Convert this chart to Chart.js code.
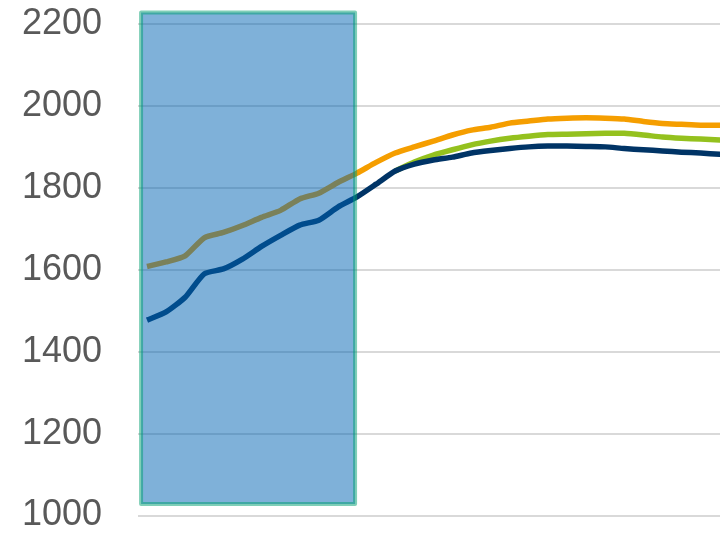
<!DOCTYPE html>
<html>
<head>
<meta charset="utf-8">
<script src="https://cdn.jsdelivr.net/npm/chart.js@4/dist/chart.umd.min.js"></script>
<style>
  html, body { margin: 0; padding: 0; background: #ffffff; }
  #wrap { width: 720px; height: 533px; position: relative; }
</style>
</head>
<body>
<div id="wrap"><canvas id="c"></canvas></div>
<script>
// ---- data ----
const years = [2009,2010,2011,2012,2013,2014,2015,2016,2017,2018,2019,2020,
               2021,2022,2023,2024,2025,2026,2027,2028,2029,2030,
               2031,2032,2033,2034,2035,2036,2037,2038,2039,2040];

const seriesOrange = [1608,1619,1634,1678,1691,1708,1728,1745,1773,1787,1813,1836,
                      1862,1885,1900,1914,1929,1941,1948,1958,1963,1968,
                      1970,1971,1970,1968,1962,1957,1955,1953,1953,1952];

const seriesGreen  = [null,null,null,null,null,null,null,null,null,null,null,null,
                      null,1841,1863,1880,1893,1905,1914,1921,1926,1930,
                      1931,1932,1933,1933,1929,1924,1921,1919,1917,1916];

const seriesNavy   = [1477,1497,1533,1590,1602,1626,1657,1684,1709,1721,1753,1778,
                      1809,1841,1858,1868,1875,1885,1891,1896,1900,1902,
                      1902,1901,1900,1896,1893,1890,1887,1885,1882,1880];

const yTicks = [1000,1200,1400,1600,1800,2000,2200];

// shaded (historic) window, in data units
const shadeX = [2008.69, 2019.9];
const shadeY = [1028, 2228];

const xMin = 2008.529, xMax = 2039.016;

function pts(arr) {
  return years.map((yr, i) => ({ x: yr, y: arr[i] }));
}

const shadePlugin = {
  id: 'shade',
  afterDatasetsDraw(chart) {
    const { ctx, scales: { x, y } } = chart;
    const x0 = x.getPixelForValue(shadeX[0]);
    const x1 = x.getPixelForValue(shadeX[1]);
    const y0 = y.getPixelForValue(shadeY[1]);
    const y1 = y.getPixelForValue(shadeY[0]);
    ctx.save();
    ctx.fillStyle = 'rgba(0,99,179,0.5)';
    ctx.fillRect(x0, y0, x1 - x0, y1 - y0);
    ctx.lineWidth = 4;
    ctx.lineJoin = 'round';
    ctx.strokeStyle = 'rgba(0,160,112,0.5)';
    ctx.strokeRect(x0, y0, x1 - x0, y1 - y0);
    ctx.restore();
  }
};

const lineStyle = { borderWidth: 5.5, tension: 0.2, borderJoinStyle: 'round', fill: false, pointRadius: 0, pointHoverRadius: 0 };

new Chart(document.getElementById('c'), {
  type: 'line',
  data: {
    datasets: [
      Object.assign({ label: 'orange', data: pts(seriesOrange), borderColor: '#F59E00', order: 0 }, lineStyle),
      Object.assign({ label: 'navy',   data: pts(seriesNavy),   borderColor: '#003466', order: 1 }, lineStyle),
      Object.assign({ label: 'green',  data: pts(seriesGreen),  borderColor: '#94C11E', order: 2 }, lineStyle)
    ]
  },
  options: {
    responsive: true,
    maintainAspectRatio: false,
    animation: false,
    layout: { padding: { top: 24, right: 0, bottom: 17.5, left: 0 } },
    plugins: { legend: { display: false }, tooltip: { enabled: false } },
    scales: {
      x: {
        type: 'linear',
        display: false,
        min: xMin,
        max: xMax
      },
      y: {
        min: 1000,
        max: 2200,
        afterFit(scale) {
          scale.width = 138;
          scale.paddingTop = 0;
          scale.paddingBottom = 0;
        },
        afterBuildTicks(scale) { scale.ticks = yTicks.map(v => ({ value: v })); },
        border: { display: false },
        grid: { color: '#D9D9D9', lineWidth: 2, drawTicks: false },
        ticks: {
          padding: 36,
          color: '#595959',
          callback: v => String(v),
          font: { family: '"Liberation Sans", Arial, sans-serif', size: 36, lineHeight: 1 }
        }
      }
    }
  },
  plugins: [shadePlugin]
});
</script>
</body>
</html>
